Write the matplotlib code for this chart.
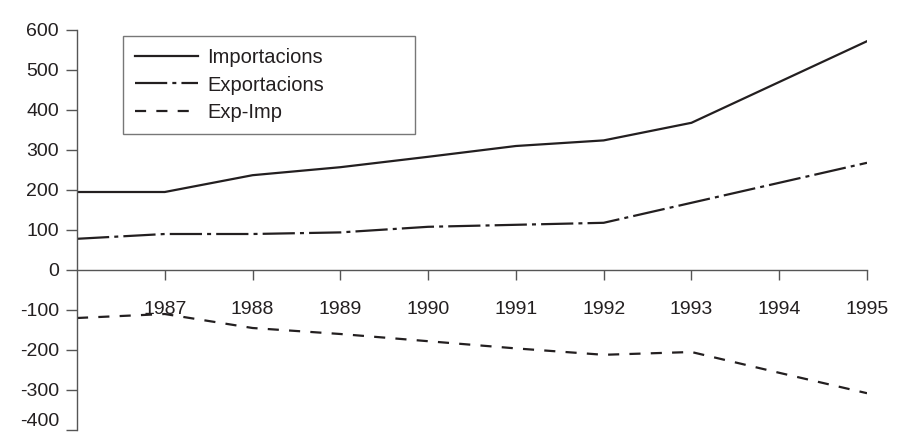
import matplotlib
matplotlib.use("Agg")
import matplotlib.pyplot as plt
from matplotlib import font_manager

years = [1986, 1987, 1988, 1989, 1990, 1991, 1992, 1993, 1994, 1995]
importacions = [195, 195, 237, 257, 283, 310, 324, 368, 470, 572]
exportacions = [78, 90, 90, 94, 108, 113, 118, 168, 218, 268]
exp_imp = [-120, -110, -145, -160, -178, -196, -212, -205, -257, -308]
xtick_years = [1987, 1988, 1989, 1990, 1991, 1992, 1993, 1994, 1995]
yticks = [-400, -300, -200, -100, 0, 100, 200, 300, 400, 500, 600]

names = {f.name for f in font_manager.fontManager.ttflist}
fam = [f for f in ["Liberation Sans Narrow", "Liberation Sans", "DejaVu Sans"] if f in names]
plt.rcParams['font.family'] = fam

ink = "#231f20"
axc = "#555555"

fig = plt.figure(figsize=(8.97, 4.33), dpi=100)
ax = fig.add_axes([77/897, 3/433, (867-77)/897, 400/433])

lw = 1.6
ax.plot(years, importacions, color=ink, lw=lw, label="Importacions", solid_joinstyle='miter')
ax.plot(years, exportacions, color=ink, lw=lw, label="Exportacions",
        dashes=(14.5, 2.3, 1.8, 2.3), dash_joinstyle='miter')
ax.plot(years, exp_imp, color=ink, lw=lw, label="Exp-Imp", dashes=(5.0, 4.6))

ax.set_xlim(1986, 1995)
ax.set_ylim(-400, 600)

for s in ["top", "right"]:
    ax.spines[s].set_visible(False)
ax.spines["bottom"].set_position(("data", 0))
ax.spines["bottom"].set_color(axc)
ax.spines["left"].set_color(axc)
ax.spines["bottom"].set_linewidth(1.0)
ax.spines["left"].set_linewidth(1.0)

ax.set_xticks(xtick_years)
ax.set_xticklabels([str(y) for y in xtick_years])
ax.set_yticks(yticks)
ax.set_yticklabels([str(v) for v in yticks])
ax.tick_params(axis='x', direction='out', length=7, width=1, color=axc, pad=15,
               labelsize=14, labelcolor=ink)
ax.tick_params(axis='y', direction='out', length=8, width=1, color=axc, pad=5,
               labelsize=14, labelcolor=ink)
ax.get_yticklabels()[0].set_verticalalignment('bottom')

leg = ax.legend(loc="upper left",
                bbox_to_anchor=(123/897, 1 - 135/433, 292/897, 99/433),
                bbox_transform=fig.transFigure, mode="expand",
                frameon=True, fancybox=False,
                fontsize=14.5, handlelength=3.1, handletextpad=0.5,
                labelspacing=0.42, borderpad=0.6, borderaxespad=0)
leg.get_frame().set_edgecolor(axc)
leg.get_frame().set_linewidth(1.0)
for t in leg.get_texts():
    t.set_color(ink)

fig.savefig("out.png", dpi=100)
